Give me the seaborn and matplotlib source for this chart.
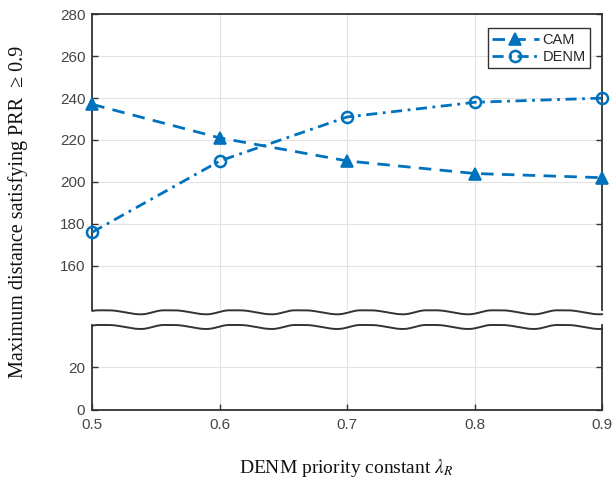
import numpy as np
import pandas as pd
import matplotlib
matplotlib.use("Agg")
import matplotlib.pyplot as plt
import seaborn as sns

# ---- data ----
lambda_r = [0.5, 0.6, 0.7, 0.8, 0.9]
cam = [237, 221, 210, 204, 202]
denm = [176, 210, 231, 238, 240]
series_names = ["CAM", "DENM"]
x_ticks = [0.5, 0.6, 0.7, 0.8, 0.9]
x_tick_labels = ["0.5", "0.6", "0.7", "0.8", "0.9"]
y_ticks_top = [160, 180, 200, 220, 240, 260, 280]
y_ticks_bottom = [0, 20]

sns.set_style("whitegrid", {"grid.color": "#e3e3e3", "axes.edgecolor": "#333333"})
plt.rcParams["font.family"] = ["Liberation Sans", "DejaVu Sans"]
plt.rcParams["mathtext.fontset"] = "stix"

blue = "#0072BD"
dark = "#333333"
tick_col = "#454545"

fig = plt.figure(figsize=(6.14, 4.86), dpi=100)
ax_top = fig.add_axes([0.1503, 0.3615, 0.8306, 0.6091])
ax_bot = fig.add_axes([0.1503, 0.1564, 0.8306, 0.1749])

df_cam = pd.DataFrame({"x": lambda_r, "y": cam})
df_denm = pd.DataFrame({"x": lambda_r, "y": denm})

sns.lineplot(data=df_cam, x="x", y="y", ax=ax_top, color=blue, linewidth=2.0,
             linestyle=(0, (4.5, 3.0)), marker="^", markersize=8,
             markerfacecolor=blue, markeredgecolor=blue, markeredgewidth=1.2,
             label=series_names[0], clip_on=False, zorder=5)
sns.lineplot(data=df_denm, x="x", y="y", ax=ax_top, color=blue, linewidth=2.0,
             linestyle=(0, (4.0, 2.0, 1.0, 2.0)), marker="o", markersize=8,
             markerfacecolor="none", markeredgecolor=blue, markeredgewidth=1.8,
             label=series_names[1], clip_on=False, zorder=5)

for ax in (ax_top, ax_bot):
    ax.set_xlim(0.5, 0.9)
    ax.set_xticks(x_ticks)
    ax.grid(True, color="#e3e3e3", linewidth=0.8)
    ax.set_xlabel("")
    ax.set_ylabel("")
    ax.tick_params(axis="both", direction="in", length=4, width=1.0, color=dark,
                   labelcolor=tick_col, labelsize=11, left=True, right=True, pad=5)
    for s in ("left", "right"):
        ax.spines[s].set_color(dark)
        ax.spines[s].set_linewidth(1.3)
        ax.spines[s].set_visible(True)

ax_top.set_ylim(138.7, 280)
ax_top.set_yticks(y_ticks_top)
ax_top.tick_params(axis="x", bottom=False, labelbottom=False)
ax_top.spines["bottom"].set_visible(False)
ax_top.spines["top"].set_visible(True)
ax_top.spines["top"].set_color(dark)
ax_top.spines["top"].set_linewidth(1.3)

ax_bot.set_ylim(0, 40)
ax_bot.set_yticks(y_ticks_bottom)
ax_bot.set_xticklabels(x_tick_labels)
ax_bot.tick_params(axis="x", bottom=True, pad=6)
ax_bot.spines["top"].set_visible(False)
ax_bot.spines["bottom"].set_visible(True)
ax_bot.spines["bottom"].set_color(dark)
ax_bot.spines["bottom"].set_linewidth(1.3)

# ---- wavy break lines ----
def wave_profile(xs, x_trough, period):
    ph = ((xs - x_trough) / period) % 1.0
    f = np.empty_like(ph)
    a = ph < 0.35
    f[a] = 0.5 + 0.5 * np.cos(np.pi * ph[a] / 0.35)
    b = (ph >= 0.35) & (ph < 0.5)
    f[b] = 0.0
    c = ph >= 0.5
    f[c] = 0.5 - 0.5 * np.cos(np.pi * (ph[c] - 0.5) / 0.5)
    return f

xs = np.linspace(0.5, 0.9, 800)
prof = wave_profile(xs, 0.5382, 0.0514)
depth_px = 4.0
h_top = 0.6091 * 486
h_bot = 0.1749 * 486
ax_top.plot(xs, -prof * depth_px / h_top, transform=ax_top.get_xaxis_transform(),
            color=dark, linewidth=1.4, clip_on=False, zorder=6)
ax_bot.plot(xs, 1 - prof * depth_px / h_bot, transform=ax_bot.get_xaxis_transform(),
            color=dark, linewidth=1.4, clip_on=False, zorder=6)

# ---- legend ----
leg = ax_top.legend(loc="upper right", bbox_to_anchor=(0.976, 0.952), borderaxespad=0,
                    frameon=True, fancybox=False, framealpha=1, edgecolor=dark,
                    fontsize=10.5, handlelength=3.2, handletextpad=0.25,
                    borderpad=0.3, labelspacing=0.2)
leg.get_frame().set_linewidth(1.0)

# ---- axis labels ----
serif = ["Liberation Serif", "DejaVu Serif"]
fig.text(0.029, 0.564, "Maximum distance satisfying PRR  \u2265 0.9", rotation=90,
         ha="center", va="center", fontsize=14.5, family=serif, color="#111111")
fig.text(0.564, 1 - 468 / 486, "DENM priority constant $\\lambda_R$", ha="center",
         va="center", fontsize=14, family=serif, color="#111111")

fig.savefig("out.png", dpi=100)
